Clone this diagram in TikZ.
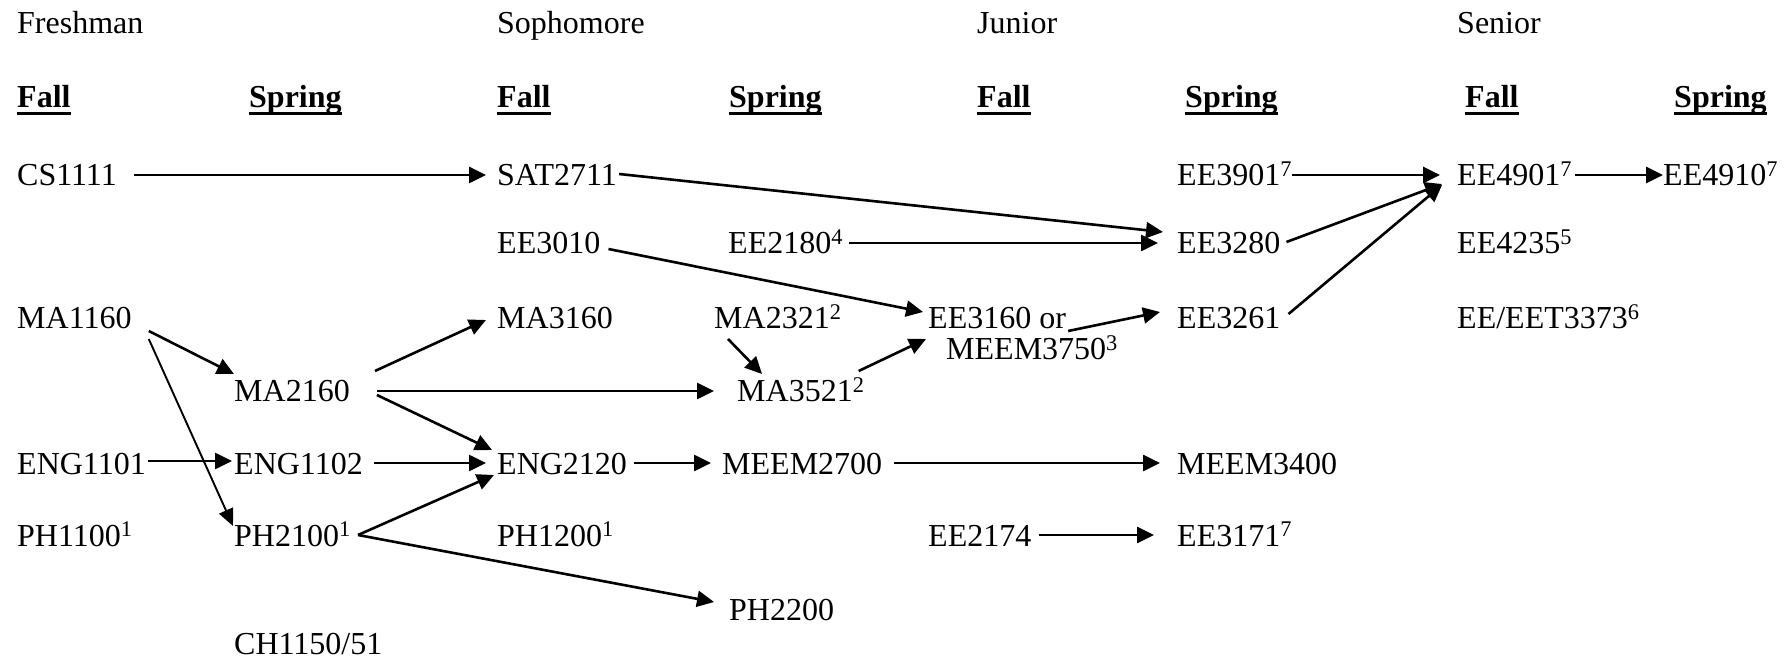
\documentclass[tikz,border=0pt]{standalone}
\usepackage{fontspec}
\setmainfont{Liberation Serif}
\usetikzlibrary{arrows.meta}
\newcommand\hdul[1]{\setbox0\hbox{\textbf{#1}}\rlap{\rule[-7pt]{\wd0}{3pt}}\box0}
\newcommand\sps[1]{\textsuperscript{#1}}
\begin{document}
\begin{tikzpicture}[x=1pt,y=-1pt,
  every node/.style={inner sep=0pt, anchor=west, text height=22pt, text depth=0pt, font=\fontsize{32}{31}\selectfont},
  arr/.style={line width=2.6pt, -{Triangle[length=17pt,width=16pt]}},
  thinarr/.style={line width=1.9pt, -{Triangle[length=17pt,width=15pt]}}]
\useasboundingbox (0,0) rectangle (1792,660);
% headers
\node (fr) at (17,23) {Freshman};
\node (so) at (497,23) {Sophomore};
\node (ju) at (977,23) {Junior};
\node (se) at (1457,23) {Senior};
\node (f1) at (17,97) {\hdul{Fall}};
\node (s1) at (249,97) {\hdul{Spring}};
\node (f2) at (497,97) {\hdul{Fall}};
\node (s2) at (729,97) {\hdul{Spring}};
\node (f3) at (977,97) {\hdul{Fall}};
\node (s3) at (1185,97) {\hdul{Spring}};
\node (f4) at (1465,97) {\hdul{Fall}};
\node (s4) at (1674,97) {\hdul{Spring}};
% row 1
\node (cs) at (17,175) {CS1111};
\node (sat) at (497,175) {SAT2711};
\node (e3901) at (1177,175) {EE3901\sps{7}};
\node (e4901) at (1457,175) {EE4901\sps{7}};
\node (e4910) at (1663,175) {EE4910\sps{7}};
% row 2
\node (e3010) at (497,243) {EE3010};
\node (e2180) at (728,243) {EE2180\sps{4}};
\node (e3280) at (1177,243) {EE3280};
\node (e4235) at (1457,243) {EE4235\sps{5}};
% row 3
\node (ma1160) at (17,318) {MA1160};
\node (ma3160) at (497,318) {MA3160};
\node (ma2321) at (714,318) {MA2321\sps{2}};
\node (e3160) at (928,318) {EE3160 or};
\node (meem3750) at (946,349) {MEEM3750\sps{3}};
\node (e3261) at (1177,318) {EE3261};
\node (e3373) at (1457,318) {EE/EET3373\sps{6}};
% row 4
\node (ma2160) at (234,391) {MA2160};
\node (ma3521) at (737,391) {MA3521\sps{2}};
% row 5
\node (eng1101) at (17,463) {ENG1101};
\node (eng1102) at (234,463) {ENG1102};
\node (eng2120) at (497,463) {ENG2120};
\node (meem2700) at (722,463) {MEEM2700};
\node (meem3400) at (1177,463) {MEEM3400};
% row 6
\node (ph1100) at (17,535) {PH1100\sps{1}};
\node (ph2100) at (234,535) {PH2100\sps{1}};
\node (ph1200) at (497,535) {PH1200\sps{1}};
\node (ee2174) at (928,535) {EE2174};
\node (ee3171) at (1177,535) {EE3171\sps{7}};
% rows 7-8
\node (ph2200) at (729,609) {PH2200};
\node (ch) at (234,643) {CH1150/51};
% arrows
\draw[arr] ([shift={(17,0)}]cs.east) -- ([shift={(-11,0)}]sat.west);
\draw[arr] ([shift={(2,-1)}]sat.east) -- ([shift={(-14,-11)}]e3280.west);
\draw[arr] ([shift={(6,0)}]e2180.east) -- ([shift={(-19,0)}]e3280.west);
\draw[arr] ([shift={(8,6)}]e3010.east) -- ([shift={(-5,-6)}]e3160.west);
\draw[arr] ([shift={(0,0)}]e3901.east) -- ([shift={(-17,0)}]e4901.west);
\draw[arr] ([shift={(6,-1)}]e3280.east) -- ([shift={(-15,9)}]e4901.west);
\draw[arr] ([shift={(8,-4)}]e3261.east) -- ([shift={(-15,10)}]e4901.west);
\draw[arr] ([shift={(3,0)}]e4901.east) -- (e4910.west);
\draw[arr] ([shift={(2,13)}]e3160.east) -- ([shift={(-17,-6)}]e3261.west);
\draw[arr] ([shift={(14,21)}]ma2321.west) -- ([shift={(25,-17)}]ma3521.west);
\draw[arr] ([shift={(-6,-20)}]ma3521.east) -- ([shift={(-2,21)}]e3160.west);
\draw[arr] ([shift={(17,13)}]ma1160.east) -- ([shift={(0,-17)}]ma2160.west);
\draw[thinarr] ([shift={(17,21)}]ma1160.east) -- ([shift={(-1,-9)}]ph2100.west);
\draw[arr] ([shift={(25,-20)}]ma2160.east) -- ([shift={(-11,2)}]ma3160.west);
\draw[arr] ([shift={(27,0)}]ma2160.east) -- ([shift={(-23,0)}]ma3521.west);
\draw[arr] ([shift={(27,4)}]ma2160.east) -- ([shift={(-5,-13)}]eng2120.west);
\draw[arr] ([shift={(2,-2)}]eng1101.east) -- ([shift={(-2,-2)}]eng1102.west);
\draw[arr] ([shift={(11,0)}]eng1102.east) -- ([shift={(-11,0)}]eng2120.west);
\draw[arr] ([shift={(7,0)}]eng2120.east) -- ([shift={(-11,0)}]meem2700.west);
\draw[arr] ([shift={(12,0)}]meem2700.east) -- ([shift={(-17,0)}]meem3400.west);
\draw[arr] ([shift={(7,0)}]ph2100.east) -- ([shift={(-3,12)}]eng2120.west);
\draw[arr] ([shift={(7,0)}]ph2100.east) -- ([shift={(-15,-7)}]ph2200.west);
\draw[arr] ([shift={(7,0)}]ee2174.east) -- ([shift={(-23,0)}]ee3171.west);
\end{tikzpicture}
\end{document}
